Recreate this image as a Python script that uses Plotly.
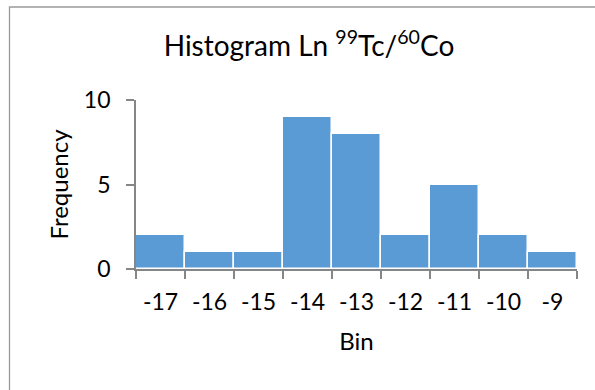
import plotly.graph_objects as go

# Histogram of ln(99Tc/60Co)
bins = ["-17", "-16", "-15", "-14", "-13", "-12", "-11", "-10", "-9"]
frequency = [2, 1, 1, 9, 8, 2, 5, 2, 1]
y_ticks = [0, 5, 10]

W, H = 595, 390
L, R, T, B = 136, 18, 100, 121
FONT = "Lato, Calibri, Carlito, sans-serif"
AXIS_GREY = "#868686"

pw = W - L - R
ph = H - T - B


def px_to_paper_x(px):
    return (px - L) / pw


def px_to_paper_y(py):
    return (H - B - py) / ph


fig = go.Figure(
    go.Bar(
        x=bins,
        y=frequency,
        marker=dict(color="#5B9BD5", line=dict(color="white", width=1.5)),
    )
)

fig.update_layout(
    width=W,
    height=H,
    margin=dict(l=L, r=R, t=T, b=B),
    paper_bgcolor="white",
    plot_bgcolor="white",
    bargap=0,
    showlegend=False,
    font=dict(family=FONT, color="#000000"),
    title=dict(
        text="Histogram Ln <sup>99</sup>Tc/<sup>60</sup>Co",
        x=309 / W,
        xanchor="center",
        xref="container",
        y=1 - 46 / H,
        yanchor="middle",
        yref="container",
        font=dict(size=28, family=FONT),
    ),
    xaxis=dict(
        type="category",
        tickson="boundaries",
        ticks="outside",
        ticklen=8,
        tickwidth=1.5,
        tickcolor=AXIS_GREY,
        showline=True,
        linecolor=AXIS_GREY,
        linewidth=1.8,
        showgrid=False,
        tickfont=dict(size=23),
        ticklabelstandoff=11,
        title=dict(text="Bin", font=dict(size=24), standoff=20),
    ),
    yaxis=dict(
        range=[0, 10],
        tickvals=y_ticks,
        ticks="outside",
        ticklen=8,
        tickwidth=1.5,
        tickcolor=AXIS_GREY,
        showline=True,
        linecolor=AXIS_GREY,
        linewidth=1.8,
        showgrid=False,
        zeroline=False,
        tickfont=dict(size=23),
        ticklabelstandoff=11,
        title=dict(text="Frequency", font=dict(size=24), standoff=8),
    ),
    shapes=[
        dict(
            type="rect",
            xref="paper",
            yref="paper",
            x0=px_to_paper_x(9.5),
            x1=px_to_paper_x(W + 10),
            y0=px_to_paper_y(7),
            y1=px_to_paper_y(H + 10),
            line=dict(color="#9a9a9a", width=1.3),
            fillcolor="rgba(0,0,0,0)",
            layer="below",
        )
    ],
)

fig.write_html("out.html")
